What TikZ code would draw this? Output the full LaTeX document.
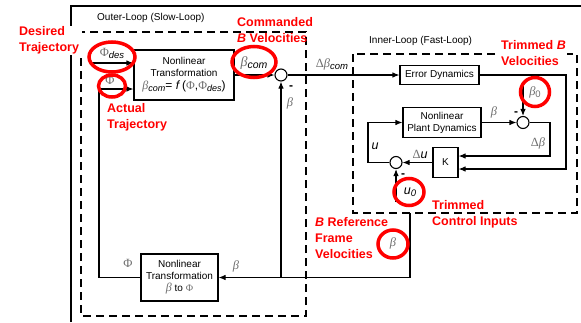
\documentclass[tikz,border=0pt]{standalone}
\usepackage{fontspec}
\setmainfont{Liberation Sans}
\newfontfamily\symserif{Liberation Serif}
\usetikzlibrary{arrows.meta,shapes.geometric}
\definecolor{ctrlred}{HTML}{FF0000}
\definecolor{symgray}{HTML}{707070}
\newcommand{\gbeta}{{\symserif\itshape\color{symgray}β}}
\newcommand{\gPhi}{{\symserif\color{symgray}Φ}}
\newcommand{\gDelta}{{\symserif\color{symgray}Δ}}
\newcommand{\sub}[2][9.5]{\raisebox{-0.3ex}{\fontsize{#1}{10}\selectfont\textit{#2}}}

\begin{document}
\begin{tikzpicture}[x=1pt, y=-1pt,
  block/.style={draw, line width=1.1pt, fill=white, font=\fontsize{10}{12}\selectfont, align=center, inner sep=1pt},
  sumj/.style={draw, circle, line width=1.1pt, fill=white, minimum size=12pt, inner sep=0pt},
  wire/.style={line width=1.1pt},
  arrow/.style={wire, -{Latex[length=7pt,width=5.5pt]}},
  loopbox/.style={line width=1.1pt, dash pattern=on 8pt off 5pt},
  title/.style={font=\fontsize{10}{12}\selectfont, inner sep=0pt},
  sig/.style={font=\fontsize{12.5}{14}\selectfont, inner sep=0pt},
  minus/.style={font=\fontsize{12}{14}\selectfont\bfseries, inner sep=0pt},
  ring/.style={draw=ctrlred, line width=3.5pt, ellipse, inner sep=0pt},
  note/.style={text=ctrlred, fill=#1, font=\fontsize{12.5}{16}\selectfont\bfseries, align=left, inner sep=1pt, anchor=west},
  note/.default=none
]
\useasboundingbox (0,0) rectangle (581,322);

% Frame and loop boundaries
\draw[line width=1.2pt] (71,322) -- (71,6) -- (581,6);
\draw[loopbox] (81,32) rectangle (306,316);
\draw[loopbox] (353,54) rectangle (577,213);
\node[title, anchor=west] (outertitle) at (97,18) {Outer-Loop (Slow-Loop)};
\node[title, anchor=west] (innertitle) at (369,41) {Inner-Loop (Fast-Loop)};

% Blocks
\node[block, minimum width=100pt, minimum height=50pt] (tf1) at (184,75) {Nonlinear\\Transformation\\[1pt]{\fontsize{12}{13}\selectfont\gbeta\sub[9]{com}= \textit{f}\,(\gPhi,\gPhi\sub[9]{des})}};
\node[block, minimum width=77pt, minimum height=47pt] (tf2) at (179.5,277.5) {Nonlinear\\Transformation\\{\fontsize{12}{13}\selectfont\gbeta} to {\fontsize{10}{11}\selectfont\gPhi}};
\node[block, minimum width=79pt, minimum height=19pt] (errdyn) at (439.5,75) {Error Dynamics};
\node[block, minimum width=78pt, minimum height=30pt] (plant) at (442,122.5) {Nonlinear\\Plant Dynamics};
\node[block, minimum width=25pt, minimum height=30pt] (gain) at (445.5,162.5) {K};

% Summing junctions
\node[sumj] (sum1) at (281,75) {};
\node[sumj] (sum2) at (523,122.5) {};
\node[sumj] (sum3) at (396,162.5) {};

% Bend points
\coordinate (desin) at (91,63);
\coordinate (phifb) at (99,89);
\coordinate (phicorner) at (99,277.5);
\coordinate (betaout) at (410,213);
\coordinate (betacorner) at (410,277.5);
\coordinate (tap) at (281,277.5);
\coordinate (errturn) at (566,75);
\coordinate (errin) at (566,169);
\coordinate (dbturn) at (550,122.5);
\coordinate (dbin) at (550,156);
\coordinate (uturn) at (368,162.5);
\coordinate (u0in) at (396,202);
\coordinate (b0in) at (523,86);

% Outer loop
\draw[arrow] (desin) -- (desin -| tf1.west);
\draw[arrow] (tf2.west) -- (phicorner) -- (phifb) -- (phifb -| tf1.west);
\draw[arrow] (tf1.east) -- (sum1.west);
\draw[arrow] (sum1.east) -- (errdyn.west);
\draw[arrow] (betaout) -- (betacorner) -- (tf2.east);
\draw[arrow] (tap) -- (sum1.south);

% Inner loop
\draw[arrow] (errdyn.east) -- (errturn) -- (errin) -- (errin -| gain.east);
\draw[arrow] (plant.east) -- (sum2.west);
\draw[arrow] (b0in) -- (sum2.north);
\draw[arrow] (sum2.east) -- (dbturn) -- (dbin) -- (dbin -| gain.east);
\draw[arrow] (gain.west) -- (sum3.east);
\draw[arrow] (sum3.west) -- (uturn) -- (uturn |- plant.west) -- (plant.west);
\draw[arrow] (u0in) -- (sum3.south);

% Signal labels
\node[sig] (phides) at (112,53) {\gPhi\sub{des}};
\node[sig] (phiact) at (110,80) {\gPhi};
\node[sig, font=\fontsize{14}{15}\selectfont] (betacom) at (254,63) {\gbeta\sub[10.5]{com}};
\node[minus] (minus1) at (291,88) {-};
\node[sig] (betafb) at (290,103) {\gbeta};
\node[sig] (dbetacom) at (332,64) {\gDelta\gbeta\sub{com}};
\node[sig] (betaplant) at (494,112) {\gbeta};
\node[minus] (minus2) at (516,114) {-};
\node[sig] (betazero) at (535,92) {\gbeta{\color{symgray}\sub{\upshape 0}}};
\node[sig] (dbeta) at (538,143) {\gDelta\gbeta};
\node[sig] (du) at (420,154) {\gDelta\textit{u}};
\node[sig] (usig) at (375,146) {\textit{u}};
\node[minus] (minus3) at (403,176) {-};
\node[sig] (uzero) at (410,192) {\textit{u}\sub{0}};
\node[sig] (phiout) at (128,263) {\gPhi};
\node[sig] (betain) at (236,266) {\gbeta};
\node[sig] (betaref) at (393,243) {\gbeta};

% Highlight rings
\node[ring, minimum width=46pt, minimum height=30pt] (ringdes) at (112,57) {};
\node[ring, minimum width=27pt, minimum height=22pt] (ringact) at (112,86) {};
\node[ring, minimum width=44pt, minimum height=31pt] (ringcom) at (254,62) {};
\node[ring, minimum width=29pt, minimum height=29pt] (ringzero) at (535,92) {};
\node[ring, minimum width=30pt, minimum height=27pt] (ringu) at (409,192) {};
\node[ring, minimum width=30pt, minimum height=28pt] (ringref) at (393,244) {};

% Annotations
\node[note=white, inner xsep=3pt] (desired) at (16,40.5) {Desired\\Trajectory};
\node[note] (commanded) at (236,30.5) {Commanded\\\textit{B} Velocities};
\node[note] (actual) at (106,117.5) {Actual\\Trajectory};
\node[note=white] (trimb) at (500,53) {Trimmed \textit{B}\\Velocities};
\node[note] (trimu) at (431,214) {Trimmed\\Control Inputs};
\node[note] (bref) at (314,238.5) {\textit{B} Reference\\Frame\\Velocities};

\end{tikzpicture}
\end{document}
